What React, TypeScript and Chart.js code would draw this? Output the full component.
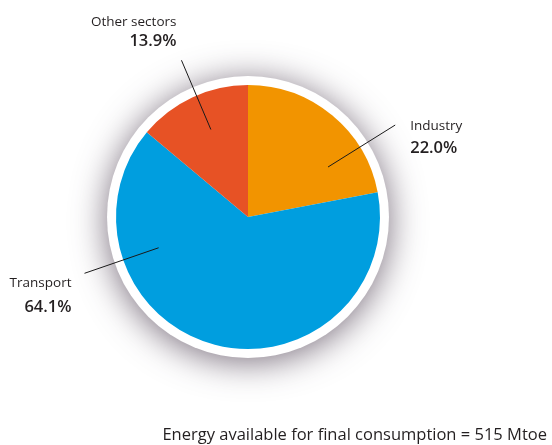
import React, { useEffect, useRef } from "react";
import { Chart, registerables } from "chart.js";

Chart.register(...registerables);

const categories = ["Industry", "Transport", "Other sectors"];
const shares = [22.0, 64.1, 13.9];
const shareLabels = ["22.0%", "64.1%", "13.9%"];
const footnote = "Energy available for final consumption = 515 Mtoe";

const colors = ["#F29400", "#009EDF", "#E75225"];

// label/leader styling per category (angle in degrees clockwise from top)
const leaderStyle = [
  { angle: 58, inner: 0.715, outer: 1.315, align: "left", dx: 15, nameDy: 5, pctDy: 28 },
  { angle: 251, inner: 0.716, outer: 1.31, align: "right", dx: -13, nameDy: 14, pctDy: 39 },
  { angle: 337, inner: 0.72, outer: 1.29, align: "right", dx: -5, nameDy: -34, pctDy: -14 },
];

const FONT = "'Open Sans', 'Noto Sans', sans-serif";

const decorPlugin = {
  id: "decor",
  beforeDatasetsDraw(chart: any) {
    const arc = chart.getDatasetMeta(0).data[0];
    if (!arc) return;
    const { x, y, outerRadius } = arc;
    const ctx = chart.ctx;
    ctx.save();
    ctx.beginPath();
    ctx.arc(x, y, outerRadius + 9, 0, Math.PI * 2);
    ctx.fillStyle = "#ffffff";
    ctx.shadowColor = "rgba(70,55,75,0.72)";
    ctx.shadowBlur = 34;
    ctx.shadowOffsetX = 0;
    ctx.shadowOffsetY = 4;
    ctx.fill();
    ctx.restore();
  },
  afterDatasetsDraw(chart: any) {
    const arc = chart.getDatasetMeta(0).data[0];
    if (!arc) return;
    const { x, y, outerRadius } = arc;
    const ctx = chart.ctx;
    ctx.save();
    categories.forEach((name, i) => {
      const s = leaderStyle[i];
      const a = (s.angle * Math.PI) / 180;
      const ux = Math.sin(a);
      const uy = -Math.cos(a);
      const x1 = x + ux * outerRadius * s.inner;
      const y1 = y + uy * outerRadius * s.inner;
      const x2 = x + ux * outerRadius * s.outer;
      const y2 = y + uy * outerRadius * s.outer;
      ctx.beginPath();
      ctx.moveTo(x1, y1);
      ctx.lineTo(x2, y2);
      ctx.strokeStyle = "#1a1a1a";
      ctx.lineWidth = 1;
      ctx.stroke();
      ctx.textAlign = s.align as CanvasTextAlign;
      ctx.textBaseline = "alphabetic";
      ctx.fillStyle = "#231f20";
      ctx.font = `400 13.5px ${FONT}`;
      ctx.fillText(name, x2 + s.dx, y2 + s.nameDy);
      ctx.font = `600 16.5px ${FONT}`;
      ctx.fillText(shareLabels[i], x2 + s.dx, y2 + s.pctDy);
    });
    ctx.textAlign = "right";
    ctx.font = `400 16.5px ${FONT}`;
    ctx.fillStyle = "#231f20";
    ctx.fillText(footnote, 547, 440);
    ctx.restore();
  },
};

export default function App() {
  const ref = useRef<HTMLCanvasElement>(null);
  useEffect(() => {
    if (!ref.current) return;
    const chart = new Chart(ref.current, {
      type: "pie",
      data: {
        labels: categories,
        datasets: [
          {
            data: shares,
            backgroundColor: colors,
            borderWidth: 0,
          },
        ],
      },
      options: {
        responsive: false,
        animation: false,
        devicePixelRatio: 1,
        layout: { padding: { left: 116, top: 85, right: 172, bottom: 96 } },
        plugins: {
          legend: { display: false },
          tooltip: { enabled: false },
          title: { display: false },
        },
      },
      plugins: [decorPlugin],
    });
    return () => chart.destroy();
  }, []);
  return (
    <div style={{ position: "fixed", left: 0, top: 0, width: 552, height: 445, background: "#fff" }}>
      <canvas ref={ref} width={552} height={445} style={{ width: 552, height: 445 }} />
    </div>
  );
}
